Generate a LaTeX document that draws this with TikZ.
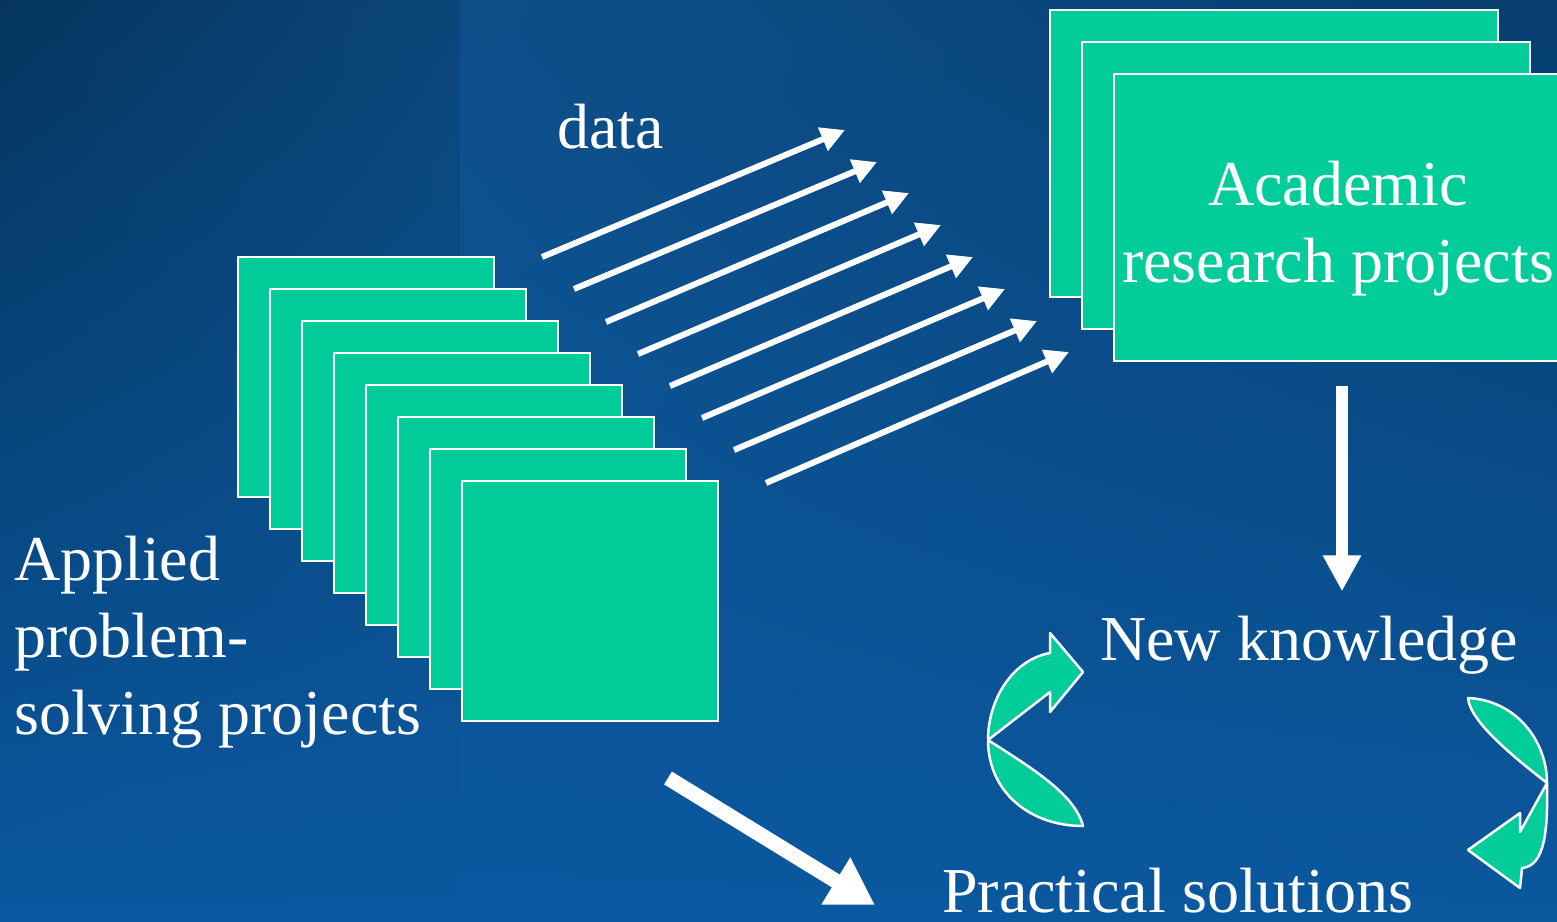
\documentclass[tikz,border=0pt]{standalone}
\usepackage{fontspec}
\setmainfont{Liberation Serif}
\usetikzlibrary{arrows.meta,calc,shadings}
\definecolor{card}{HTML}{02CC9A}
\definecolor{bgA}{HTML}{05355E}
\definecolor{bgB}{HTML}{0B4679}
\definecolor{bgC}{HTML}{0A58A0}
\definecolor{bgD}{HTML}{0E4F8A}
\definecolor{bgE}{HTML}{063E6E}
\definecolor{bgF}{HTML}{0B589F}
\tikzset{
  sheet/.style={draw=white,line width=2.5bp,fill=card,inner sep=0pt,minimum width=256bp,minimum height=240bp},
  bigsheet/.style={sheet,minimum width=448bp,minimum height=287bp},
  lbl/.style={text=white,inner sep=0pt,font=\fontsize{64bp}{77bp}\selectfont},
  dar/.style={-{Triangle[length=24bp,width=24bp]},draw=white,line width=6bp},
  downar/.style={-{Triangle[length=36bp,width=36bp]},draw=white,line width=12bp},
  diagar/.style={-{Triangle[length=46bp,width=52bp]},draw=white,line width=15bp},
  swirl/.style={fill=card,draw=white,line width=2.5bp,line join=round},
}
\begin{document}
\begin{tikzpicture}[x=1bp,y=-1bp]
  \useasboundingbox (0,0) rectangle (1557,921);
  % background
  \shade[upper left=bgA,upper right=bgB,lower left=bgC,lower right=bgC] (0,0) rectangle (460,921);
  \shade[upper left=bgD,upper right=bgE,lower left=bgC,lower right=bgF] (460,0) rectangle (1557,921);
  % academic stack
  \node[bigsheet] (ac1) at (1274,153.5) {};
  \node[bigsheet] (ac2) at ($(ac1)+(32,32)$) {};
  \node[bigsheet] (ac3) at ($(ac2)+(32,32)$) {};
  \node[lbl,align=center] (acad) at (1338,229) {Academic\\research projects};
  % applied stack
  \node[sheet] (ap1) at (366,377) {};
  \node[sheet] (ap2) at ($(ap1)+(32,32)$) {};
  \node[sheet] (ap3) at ($(ap2)+(32,32)$) {};
  \node[sheet] (ap4) at ($(ap3)+(32,32)$) {};
  \node[sheet] (ap5) at ($(ap4)+(32,32)$) {};
  \node[sheet] (ap6) at ($(ap5)+(32,32)$) {};
  \node[sheet] (ap7) at ($(ap6)+(32,32)$) {};
  \node[sheet] (ap8) at ($(ap7)+(32,32)$) {};
  \node[lbl,align=left,anchor=west] (appl) at (14,642) {Applied\\problem-\\solving projects};
  % data arrows
  \node[lbl,anchor=base west] (data) at (557,148) {data};
  \coordinate (ds1) at (542,257); \coordinate (de1) at (845,130);
  \coordinate (ds2) at (574,289); \coordinate (de2) at (877,162);
  \coordinate (ds3) at (606,322); \coordinate (de3) at (909,193);
  \coordinate (ds4) at (638,354); \coordinate (de4) at (941,225);
  \coordinate (ds5) at (670,386); \coordinate (de5) at (973,257);
  \coordinate (ds6) at (702,418); \coordinate (de6) at (1005,289);
  \coordinate (ds7) at (734,450); \coordinate (de7) at (1037,321);
  \coordinate (ds8) at (766,483); \coordinate (de8) at (1069,352);
  \draw[dar] (ds1) -- (de1); \draw[dar] (ds2) -- (de2);
  \draw[dar] (ds3) -- (de3); \draw[dar] (ds4) -- (de4);
  \draw[dar] (ds5) -- (de5); \draw[dar] (ds6) -- (de6);
  \draw[dar] (ds7) -- (de7); \draw[dar] (ds8) -- (de8);
  % outcomes
  \node[lbl,anchor=base west] (newk) at (1100,660) {New knowledge};
  \node[lbl,anchor=base west] (pract) at (942,912) {Practical solutions};
  \coordinate (dcol) at (1342,0);
  \draw[downar,shorten <=24bp,shorten >=24bp] (ac3.south -| dcol) -- (newk.north -| dcol);
  \coordinate (dgs) at (668,778); \coordinate (dge) at (875,905);
  \draw[diagar] (dgs) -- (dge);
  % cycle arrows
  \draw[swirl] (1083,672) -- (1050,633) -- (1050,653)
    .. controls (1012,660) and (988,700) .. (988,740)
    .. controls (988,792) and (1030,826) .. (1083,826)
    .. controls (1075,795) and (1035,770) .. (988,740)
    -- (1050,692) -- (1050,712) -- cycle;
  \draw[swirl] (1468,698)
    .. controls (1515,700) and (1547,740) .. (1547,783)
    .. controls (1548,830) and (1545,866) .. (1522,868)
    -- (1520,888) -- (1468,850) -- (1520,813) -- (1520,832) -- (1547,783)
    .. controls (1515,758) and (1470,722) .. (1468,698) -- cycle;
\end{tikzpicture}
\end{document}
